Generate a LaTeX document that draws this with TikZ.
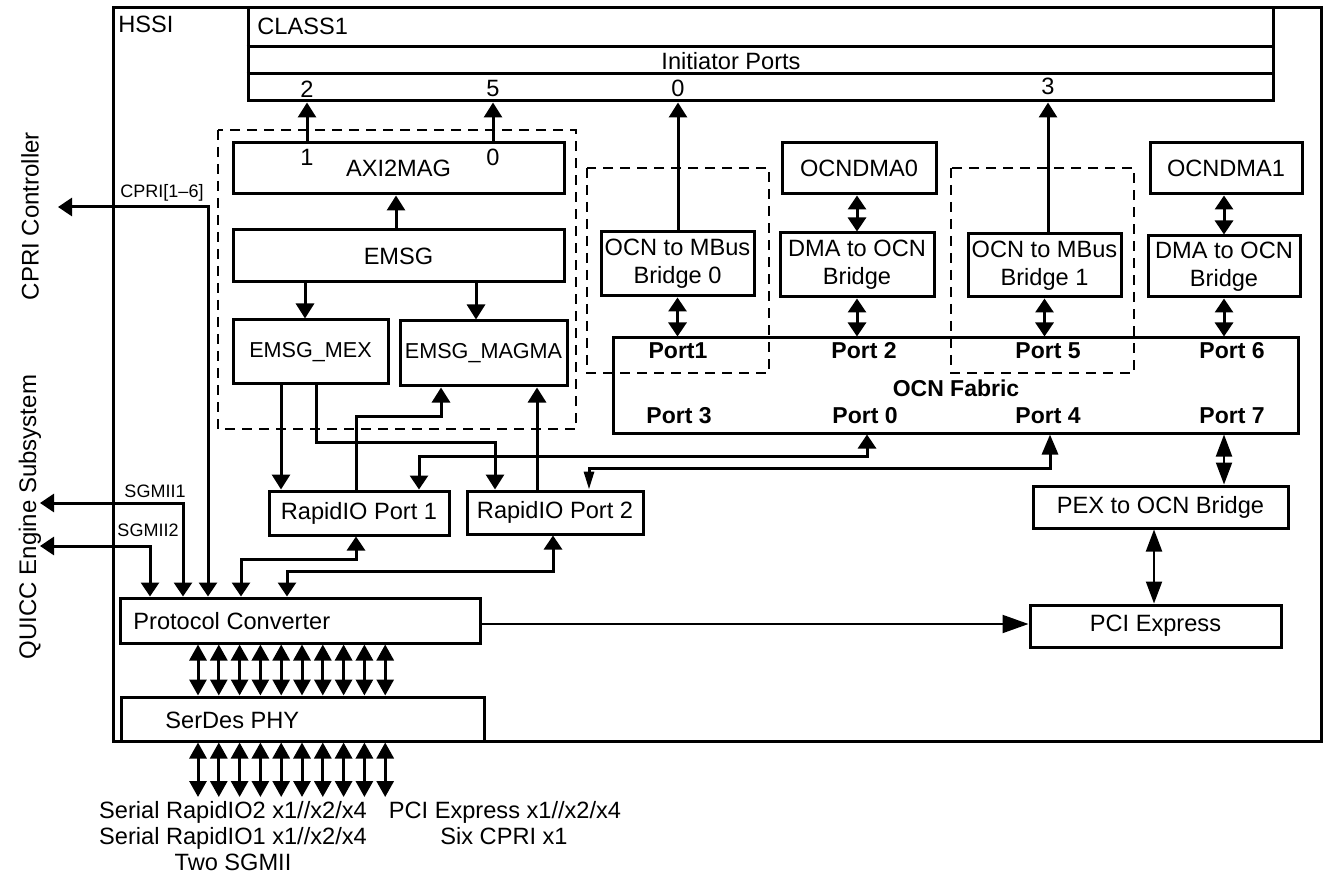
\documentclass[tikz,border=0pt]{standalone}
\usepackage{fontspec}
\setmainfont{Liberation Sans}
\usetikzlibrary{arrows.meta}

\tikzset{
    blk/.style={draw, line width=1.5pt, inner sep=0pt, align=center, font=\fontsize{11.8}{14}\selectfont},
    txt/.style={inner sep=0pt, font=\fontsize{11.8}{14}\selectfont},
    port/.style={inner sep=0pt, font=\fontsize{11.5}{14}\selectfont\bfseries},
    small/.style={inner sep=0pt, font=\fontsize{9}{11}\selectfont},
    grp/.style={draw, line width=1.2pt, dash pattern=on 5pt off 3.5pt},
    conn/.style={line width=1.5pt},
    tri/.style={conn, -{Triangle[length=7.5pt,width=9pt]}},
    dbl/.style={conn, {Triangle[length=7pt,width=9pt]}-{Triangle[length=7pt,width=9pt]}},
    lane/.style={conn, {Triangle[length=8pt,width=8.5pt]}-{Triangle[length=8pt,width=8.5pt]}},
    thin/.style={line width=1pt, {Triangle[length=11pt,width=8pt]}-{Triangle[length=11pt,width=8pt]}}
}

\begin{document}
\begin{tikzpicture}[x=0.5pt, y=-0.5pt]
\useasboundingbox (0,0) rectangle (1325,876);

% HSSI and CLASS1
\node[blk, minimum width=604pt, minimum height=366.5pt] (hssi) at (717,374.5) {};
\node[txt, anchor=base west] (hssilbl) at (118,33) {HSSI};
\node[blk, minimum width=512.5pt, minimum height=46.5pt] (class1) at (760.5,54.5) {};
\node[txt, anchor=base west] (class1lbl) at (257,35) {CLASS1};
\draw[conn] (class1.west |- 0,47) -- (class1.east |- 0,47);
\draw[conn] (class1.west |- 0,74) -- (class1.east |- 0,74);
\node[txt] (initlbl) at (731,61) {Initiator Ports};
\node[txt] (in2) at (307,89) {2};
\node[txt] (in5) at (493,89) {5};
\node[txt] (in0) at (678,88) {0};
\node[txt] (in3) at (1048,86) {3};

% EMSG group
\draw[grp] (218,130) rectangle (576,429);
\node[blk, minimum width=165.5pt, minimum height=25.5pt] (axi) at (398.5,168.5) {AXI2MAG};
\node[txt] (axi1) at (307,157) {1};
\node[txt] (axi0) at (493,157) {0};
\node[blk, minimum width=165.5pt, minimum height=26pt] (emsg) at (398.5,256) {EMSG};
\node[blk, minimum width=77.5pt, minimum height=32pt, font=\fontsize{10.8}{13}\selectfont] (mex) at (310.5,352) {EMSG\_MEX};
\node[blk, minimum width=83.5pt, minimum height=32.5pt, font=\fontsize{10.8}{13}\selectfont] (magma) at (483.5,353.5) {EMSG\_MAGMA};

\draw[tri] (axi.north -| in2) -- (class1.south -| in2);
\draw[tri] (axi.north -| in5) -- (class1.south -| in5);
\draw[tri] (emsg.north -| 396,0) -- (axi.south -| 396,0);
\draw[tri] (emsg.south -| 305,0) -- (mex.north -| 305,0);
\draw[tri] (emsg.south -| 476,0) -- (magma.north -| 476,0);

% RapidIO ports
\node[blk, minimum width=90pt, minimum height=22pt] (rio1) at (359,513) {RapidIO Port 1};
\node[blk, minimum width=88pt, minimum height=21.5pt] (rio2) at (555,512.5) {RapidIO Port 2};

\draw[tri] (mex.south -| 281,0) -- (rio1.north -| 281,0);
\draw[tri] (mex.south -| 316,0) |- (495,442) -- (rio2.north -| 495,0);
\draw[tri] (rio1.north -| 356,0) |- (441,416) -- (magma.south -| 441,0);
\draw[tri] (rio2.north -| 537,0) -- (magma.south -| 537,0);

% OCN side
\node[blk, minimum width=76.5pt, minimum height=32pt] (br0) at (677.5,264) {OCN to MBus\\Bridge 0};
\node[blk, minimum width=77pt, minimum height=25.5pt] (dma0) at (859,168.5) {OCNDMA0};
\node[blk, minimum width=77pt, minimum height=32pt] (dmab0) at (857,265) {DMA to OCN\\Bridge};
\node[blk, minimum width=76.5pt, minimum height=31.5pt] (br1) at (1044.5,265.5) {OCN to MBus\\Bridge 1};
\node[blk, minimum width=76pt, minimum height=25.5pt] (dma1) at (1226,168.5) {OCNDMA1};
\node[blk, minimum width=76pt, minimum height=30.5pt] (dmab1) at (1224,266.5) {DMA to OCN\\Bridge};
\draw[grp] (587,168) rectangle (769,373);
\draw[grp] (951,168) rectangle (1134,373);

\node[blk, minimum width=342.5pt, minimum height=47.5pt] (ocn) at (955.5,385.5) {};
\node[port] (p1) at (678,351) {Port1};
\node[port] (p2) at (864,351) {Port 2};
\node[port] (p5) at (1048,351) {Port 5};
\node[port] (p6) at (1232,351) {Port 6};
\node[port] (ocnlbl) at (956,388) {OCN Fabric};
\node[port] (p3) at (679,416) {Port 3};
\node[port] (p0) at (865,416) {Port 0};
\node[port] (p4) at (1048,416) {Port 4};
\node[port] (p7) at (1232,416) {Port 7};

\draw[tri] (br0.north -| in0) -- (class1.south -| in0);
\draw[tri] (br1.north -| in3) -- (class1.south -| in3);
\draw[dbl] (br0.south) -- (ocn.north -| br0.south);
\draw[dbl] (dma0.south -| dmab0.north) -- (dmab0.north);
\draw[dbl] (dmab0.south) -- (ocn.north -| dmab0.south);
\draw[dbl] (br1.south) -- (ocn.north -| br1.south);
\draw[dbl] (dma1.south -| dmab1.north) -- (dmab1.north);
\draw[dbl] (dmab1.south) -- (ocn.north -| dmab1.south);

\node[blk, minimum width=127.5pt, minimum height=21pt] (pex) at (1160.5,507) {PEX to OCN Bridge};
\node[blk, minimum width=125.5pt, minimum height=21pt] (pcie) at (1155.5,626) {PCI Express};
\draw[thin] (ocn.south -| dmab1.south) -- (pex.north -| dmab1.south);
\draw[thin] (pex.south -| 1154,0) -- (pcie.north -| 1154,0);

\draw[dbl] (ocn.south -| 867,0) |- (419,456) -- (rio1.north -| 419,0);
\draw[conn, {Triangle[length=10pt,width=8pt]}-{Triangle[length=9pt,width=5pt]}] (ocn.south -| 1050,0) |- (589,468) -- (rio2.north -| 589,0);

% converter and PHY
\node[blk, minimum width=180pt, minimum height=22.5pt] (pc) at (300,620.5) {};
\node[txt, anchor=west] (pclbl) at (133,621) {Protocol Converter};
\node[blk, minimum width=181.5pt, minimum height=22pt] (serdes) at (302.5,719) {};
\node[txt, anchor=west] (serdeslbl) at (165,720) {SerDes PHY};

\draw[dbl] (rio1.south -| 356,0) |- (241,559) -- (pc.north -| 241,0);
\draw[dbl] (rio2.south -| 553,0) |- (287,571) -- (pc.north -| 287,0);
\draw[line width=1pt, -{Triangle[length=13pt,width=9pt]}] (pc.east |- 0,624) -- (pcie.west |- 0,624);

\foreach \i in {0,...,9} {
    \pgfmathsetmacro{\xx}{198+20.8*\i}
    \draw[lane] (pc.south -| \xx,0) -- (serdes.north -| \xx,0);
    \coordinate (lane\i) at (\xx,797);
    \draw[lane] (serdes.south -| lane\i) -- (lane\i);
}

% outside blocks
\node[txt, rotate=90, font=\fontsize{12}{14}\selectfont] (cpricon) at (30,216) {CPRI Controller};
\node[txt, rotate=90, font=\fontsize{12}{14}\selectfont] (quicc) at (30,517) {QUICC Engine Subsystem};
\coordinate (cprito) at (58,207);
\coordinate (sg1to) at (40,503);
\coordinate (sg2to) at (40,546);
\draw[dbl] (cprito) -| (pc.north -| 208,0);
\draw[dbl] (sg1to) -| (pc.north -| 183,0);
\draw[dbl] (sg2to) -| (pc.north -| 150,0);
\node[small] (cprilbl) at (162,193) {CPRI[1–6]};
\node[small] (sg1lbl) at (155,491) {SGMII1};
\node[small] (sg2lbl) at (148,530) {SGMII2};

\node[txt, anchor=base] (srio2) at (233,818) {Serial RapidIO2 x1//x2/x4};
\node[txt, anchor=base] (srio1) at (233,844) {Serial RapidIO1 x1//x2/x4};
\node[txt, anchor=base] (sgmii) at (233,870) {Two SGMII};
\node[txt, anchor=base] (pcielanes) at (505,818) {PCI Express x1//x2/x4};
\node[txt, anchor=base] (cprilanes) at (504,844) {Six CPRI x1};

\end{tikzpicture}
\end{document}
